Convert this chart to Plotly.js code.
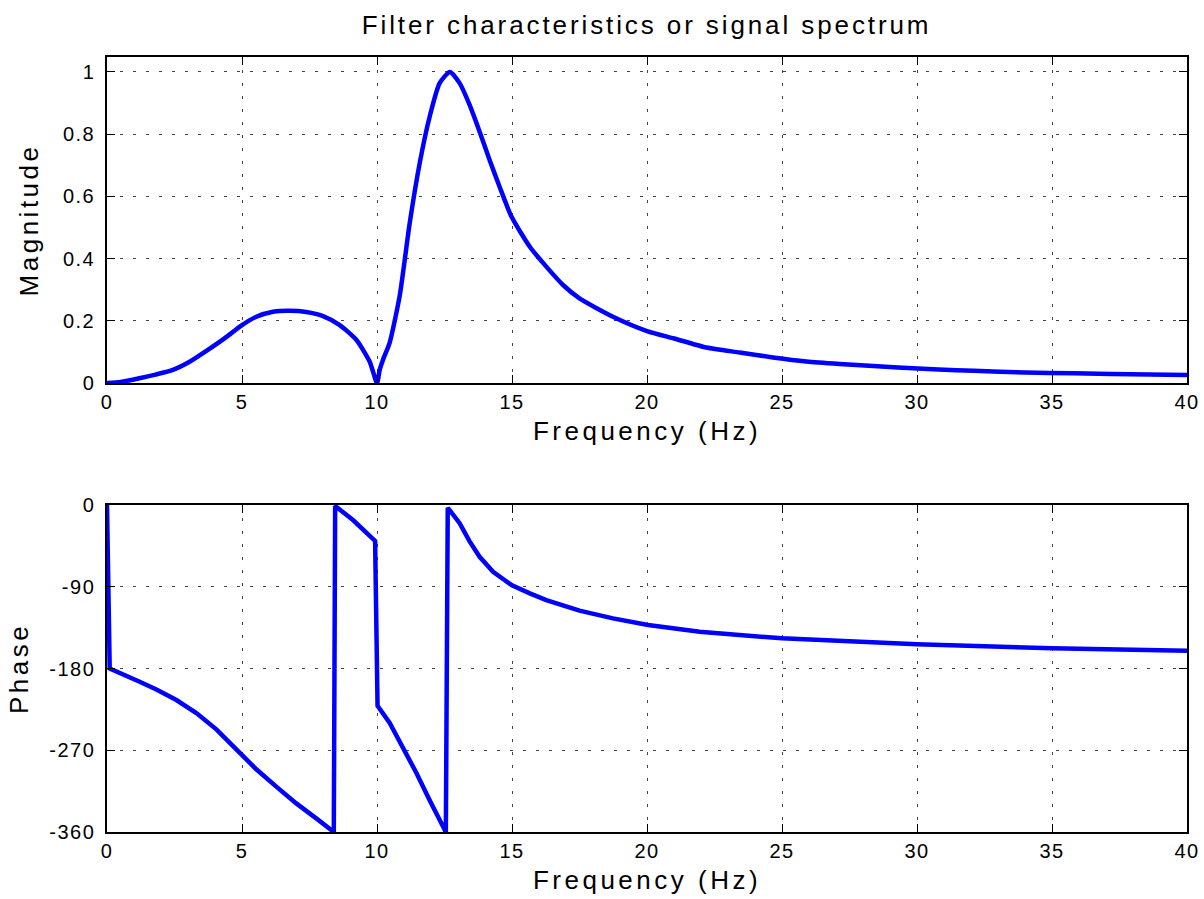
<!DOCTYPE html>
<html>
<head>
<meta charset="utf-8">
<script src="https://cdn.plot.ly/plotly-3.0.1.min.js"></script>
<style>
  html, body { margin: 0; padding: 0; background: #fff; }
  #chart { width: 1204px; height: 899px; }
  .gtitle { letter-spacing: 2.9px; }
  .g-xtitle text, .g-x2title text, .g-ytitle text, .g-y2title text { letter-spacing: 3.5px; }
  .xtick text, .ytick text, .x2tick text, .y2tick text { letter-spacing: 1.5px; }
</style>
</head>
<body>
<div id="chart"></div>
<script>
// Magnitude response
const magFreq = [0, 0.5, 1.2, 1.8, 2.44, 3.06, 3.68, 4.3, 5.0, 5.53, 6.15, 6.77, 7.38, 8.0, 8.62, 9.24, 9.73, 10.0,
  10.1, 10.22, 10.47, 10.84, 11.21, 11.58, 11.95, 12.32, 12.7, 13.06, 13.43, 13.8, 14.17, 14.54, 14.98, 15.66,
  16.27, 16.89, 17.5, 18.74, 20.0, 21.0, 22.2, 23.43, 24.67, 25.9, 27.14, 29.3, 30.8, 32.1, 34.0, 35.8, 38.6, 40.0];
const magValues = [0, 0.003, 0.015, 0.027, 0.042, 0.068, 0.103, 0.14, 0.186, 0.213, 0.229, 0.232, 0.228, 0.215, 0.186, 0.138, 0.068, 0,
  0.042, 0.074, 0.13, 0.28, 0.513, 0.706, 0.856, 0.964, 1.0, 0.964, 0.894, 0.808, 0.717, 0.631, 0.535, 0.438,
  0.374, 0.315, 0.272, 0.213, 0.167, 0.143, 0.114, 0.098, 0.082, 0.069, 0.061, 0.050, 0.043, 0.039, 0.034, 0.031, 0.027, 0.026];

// Phase response in degrees
const phaseFreq = [0, 0.1, 1.21, 1.83, 2.57, 3.31, 4.05, 4.98, 5.53, 6.27, 7.01, 7.75, 8.4, 8.45, 9.11, 9.93, 10.02,
  10.47, 10.96, 11.46, 11.95, 12.55, 12.62, 13.06, 13.43, 13.8, 14.3, 15.0, 15.66, 16.27, 17.5, 18.74, 20.04, 21.2,
  21.95, 25.0, 28.1, 30.0, 35.0, 40.0];
const phaseValues = [0, -180, -194.5, -203, -214.7, -229, -247, -275, -291, -310, -328.5, -345, -360, -1, -16.5, -39.5, -221,
  -240, -266, -295, -325, -360, -3, -20, -40, -57, -73.5, -88.5, -97.3, -104.6, -116.3, -124.8, -132.1, -136.9,
  -139.5, -146.8, -151.6, -153.4, -157.8, -160.4];

const xTicks = [0, 5, 10, 15, 20, 25, 30, 35, 40];
const magTicks = [0, 0.2, 0.4, 0.6, 0.8, 1];
const magTickText = ['0', '0.2', '0.4', '0.6', '0.8', '1'];
const phaseTicks = [-360, -270, -180, -90, 0];
const phaseTickText = ['-360', '-270', '-180', '-90', '0'];

const FONT = 'Liberation Sans, Arial, sans-serif';

const traces = [
  { x: magFreq, y: magValues, type: 'scatter', mode: 'lines',
    line: { color: '#0000ff', width: 4.5, shape: 'spline', smoothing: 0.6 },
    xaxis: 'x', yaxis: 'y', hoverinfo: 'x+y' },
  { x: phaseFreq, y: phaseValues, type: 'scatter', mode: 'lines',
    line: { color: '#0000ff', width: 4.5 },
    xaxis: 'x2', yaxis: 'y2', hoverinfo: 'x+y' }
];

const axisCommon = {
  showline: true, linecolor: '#000', linewidth: 1.5, mirror: 'ticks',
  ticks: 'inside', ticklen: 8, tickwidth: 1, tickcolor: '#000',
  showgrid: true, gridcolor: '#444', gridwidth: 1, griddash: '3px,10px',
  zeroline: false, tickfont: { family: FONT, size: 20, color: '#000' },
  fixedrange: true
};

const titleFont = { family: FONT, size: 26, color: '#000' };

const layout = {
  width: 1204, height: 899,
  margin: { l: 107, r: 17, t: 57, b: 67 },
  paper_bgcolor: '#fff', plot_bgcolor: '#fff',
  showlegend: false,
  title: { text: 'Filter characteristics or signal spectrum', font: titleFont, x: 0.537, xanchor: 'center', y: 0.972, yanchor: 'middle' },
  xaxis: Object.assign({}, axisCommon, {
    domain: [0, 1], anchor: 'y', range: [0, 40], tickvals: xTicks,
    title: { text: 'Frequency (Hz)', font: titleFont, standoff: 10 }
  }),
  yaxis: Object.assign({}, axisCommon, {
    domain: [0.5794, 1], anchor: 'x', range: [0, 1.048], tickvals: magTicks, ticktext: magTickText,
    ticklabelstandoff: 6,
    title: { text: 'Magnitude', font: titleFont, standoff: 17 }
  }),
  xaxis2: Object.assign({}, axisCommon, {
    domain: [0, 1], anchor: 'y2', range: [0, 40], tickvals: xTicks,
    title: { text: 'Frequency (Hz)', font: titleFont, standoff: 10 }
  }),
  yaxis2: Object.assign({}, axisCommon, {
    domain: [0, 0.4219], anchor: 'x2', range: [-360, 0], tickvals: phaseTicks, ticktext: phaseTickText,
    ticklabelstandoff: 6,
    title: { text: 'Phase', font: titleFont, standoff: 13 }
  })
};

Plotly.newPlot('chart', traces, layout, { displayModeBar: false });
</script>
</body>
</html>
